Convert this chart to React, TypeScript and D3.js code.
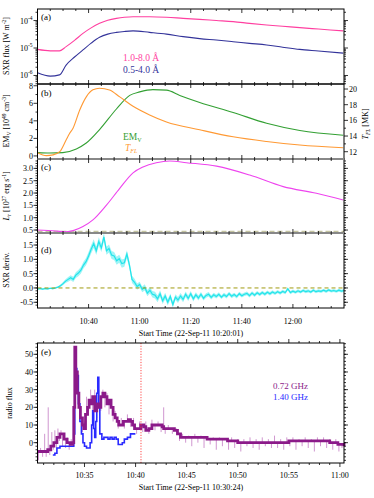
import React from 'react';
import * as d3 from 'd3';

const W = 374;
const H = 498;
const L = 37.5;
const R = 344;
const FONT = '"Liberation Serif", "DejaVu Serif", serif';

// (a) GOES SXR flux, minutes after 10:20:01
const sxrTime = [0, 5, 8.6, 11.2, 14.5, 17.8, 21, 24.3, 27.5, 30.9, 34, 37.4, 43.9, 50.5, 57, 63.5, 70, 76.6, 83, 89.7, 96, 102.7, 110, 119.7];
const sxrLong = [8.9e-6, 7.9e-6, 7.9e-6, 1.12e-5, 1.9e-5, 3.4e-5, 5.4e-5, 7.9e-5, 1.02e-4, 1.2e-4, 1.32e-4, 1.38e-4, 1.38e-4, 1.32e-4, 1.2e-4, 1.1e-4, 1.0e-4, 9.1e-5, 7.9e-5, 6.9e-5, 6.2e-5, 5.5e-5, 4.9e-5, 4.2e-5];
const sxrShort = [1.26e-6, 9.5e-7, 1.05e-6, 2.4e-6, 4.7e-6, 8.5e-6, 1.5e-5, 2.45e-5, 3.2e-5, 3.7e-5, 4.0e-5, 4.2e-5, 3.7e-5, 3.2e-5, 2.6e-5, 2.2e-5, 1.95e-5, 1.7e-5, 1.48e-5, 1.29e-5, 1.07e-5, 8.9e-6, 7.8e-6, 6.5e-6];

// (b) emission measure and temperature
const emTime = [0, 4.7, 9.9, 15.2, 19.1, 24.3, 30.9, 36.1, 40, 45.2, 50.5, 55.7, 63.5, 76.6, 89.7, 102.7, 119.7];
const emValue = [0.38, 0.33, 0.38, 0.8, 1.47, 3.0, 5.35, 6.9, 7.3, 7.56, 7.5, 6.9, 6.1, 4.96, 3.72, 2.9, 2.36];
const tempTime = [0, 3.5, 6.1, 8.7, 11.2, 12.5, 13.9, 16.5, 19.1, 21.7, 24.3, 28.2, 32.2, 37.4, 43.9, 50.5, 63.5, 76.6, 89.7, 102.7, 119.7];
const tempValue = [11.87, 11.5, 11.6, 12.0, 13.5, 14.3, 15.0, 17.3, 19.0, 19.9, 20.1, 19.87, 19.0, 17.8, 16.7, 15.8, 14.8, 13.9, 13.3, 12.85, 12.5];

// (c) radiative loss
const lumTime = [0, 7.2, 11.2, 17.8, 21.7, 27, 32.2, 37.4, 41.3, 46.5, 51.8, 58.3, 70.1, 83.1, 96.2, 109.2, 119.7];
const lumValue = [0.5, 0.46, 0.43, 0.64, 0.91, 1.51, 2.19, 2.82, 3.06, 3.23, 3.3, 3.23, 3.09, 2.73, 2.26, 1.99, 1.72];
const lumBase = 0.43;

// (d) SXR derivative, one value per minute from 10:20, plus the spread of the noisy band
const derivValue = [
  -0.03, -0.02, -0.04, -0.02, -0.03, -0.01, -0.02, 0.0,
  0.03, 0.08, 0.15, 0.24, 0.3,
  0.36, 0.3, 0.45, 0.52, 0.62,
  0.8, 0.92, 1.12, 1.35,
  1.55, 1.3, 1.62, 1.4, 1.78,
  1.3, 1.38, 1.15, 1.12,
  0.95, 1.02, 0.85, 0.88,
  1.18, 0.8,
  0.3, 0.2, 0.05, 0.12,
  -0.05, 0.02, -0.18, -0.08, -0.22,
  -0.25, -0.38, -0.2, -0.45, -0.28, -0.5, -0.3, -0.58, -0.32, -0.42,
  -0.28, -0.4, -0.22, -0.36, -0.2, -0.38, -0.24, -0.35, -0.22, -0.36, -0.26, -0.22, -0.33, -0.24, -0.3,
  -0.22, -0.32, -0.24, -0.3, -0.2, -0.29, -0.23, -0.3, -0.2, -0.27, -0.22, -0.19, -0.27, -0.18, -0.25, -0.17, -0.23, -0.16, -0.22, -0.15,
  -0.2, -0.14, -0.19, -0.13, -0.18, -0.12, -0.16, -0.03, -0.16, -0.11,
  -0.15, -0.1, -0.14, -0.09, -0.13, -0.1, -0.14, -0.08, -0.13, -0.1, -0.12, -0.08, -0.12, -0.07, -0.11, -0.09, -0.12, -0.08, -0.11, -0.09,
];
const derivSpreadTime = [0, 8, 12, 18, 22, 30, 36, 40, 46, 56, 70, 90, 120];
const derivSpread = [0.03, 0.03, 0.08, 0.12, 0.15, 0.14, 0.14, 0.1, 0.12, 0.1, 0.07, 0.06, 0.05];

// (e) radio flux, minutes after 10:30:00
const r072Time = [0.4, 1.0, 1.4, 1.7, 2.0, 2.3, 2.6, 3.0, 3.3, 3.6, 3.85, 3.95, 4.05, 4.15, 4.3, 4.45, 4.6, 4.8, 4.95, 5.1, 5.3, 5.45, 5.6, 5.8, 6.0, 6.2, 6.4, 6.6, 6.8, 7.0, 7.2, 7.4, 7.6, 7.8, 8.0, 8.2, 8.35, 8.6, 8.8, 9.0, 9.3, 9.5, 9.7, 9.9, 10.2, 10.5, 10.8, 11.0, 11.3, 11.6, 12.0, 12.4, 12.6, 12.75, 13.0, 13.4, 13.8, 14.1, 14.4, 15, 16, 17, 18, 19, 20, 21, 22, 23, 24, 25, 26, 27, 28, 29, 29.8, 30.4];
const r072Value = [-5, -5, -4, -2, 0, 3, 5, 2, 0, -1, 0, 20, 54, 40, 28, 20, 14, 10, 8, 16, 20, 24, 22, 26, 18, 22, 20, 26, 28, 26, 22, 24, 20, 16, 14, 12, 10, 10, 12, 12, 13, 12, 10, 8, 8, 10, 9, 7, 8, 10, 10, 10, 9, 8, 8, 8, 7, 5, 3, 3, 3, 2, 2, 1, 0, 0, 0, 0, 0, 1, 1, 1, 1, 0, -1, -2];
const r072RawTime = [0.5, 0.7, 0.9, 1.1, 1.25, 1.45, 1.6, 1.8, 1.95, 2.1, 2.25, 2.4, 2.55, 2.7, 2.85, 3.0, 3.15, 3.3, 3.5, 3.7, 4.2, 4.4, 4.6, 4.8, 5.0, 5.2, 5.4, 5.6, 5.8, 6.0, 6.2, 6.4, 6.6, 6.8, 7.0, 7.2, 7.4, 7.6, 7.8, 8.0, 8.3, 8.6, 8.9, 9.2, 9.5, 9.8, 10.1, 10.4, 10.7, 11.0, 11.3, 11.6, 11.9, 12.2, 12.5, 12.75, 12.9, 13.2, 13.6, 14.0, 14.3, 14.6, 14.9, 15.2, 15.5, 15.8, 16.1, 16.4, 16.7, 17.0, 17.3, 17.6, 17.9, 18.2, 18.5, 18.8, 19.1, 19.4, 19.7, 20.0, 20.3, 20.6, 20.9, 21.2, 21.5, 21.8, 22.1, 22.4, 22.7, 23.0, 23.3, 23.6, 23.9, 24.2, 24.5, 24.8, 25.1, 25.4, 25.7, 26.0, 26.3, 26.6, 26.9, 27.2, 27.5, 27.8, 28.1, 28.4, 28.7, 29.0, 29.3, 29.6, 29.9, 30.2];
const r072RawValue = [-10, -3, -8, 5, -8, 20, -7, 6, -4, 7, -3, 8, 1, 7, -2, 5, -3, 3, -4, 2, 50, 24, 18, 6, 12, 26, 18, 30, 16, 30, 14, 30, 18, 30, 20, 28, 16, 24, 12, 18, 8, 14, 8, 16, 9, 14, 5, 12, 6, 12, 5, 13, 7, 12, 6, 20, 5, 10, 5, 8, 1, 5, 0, 4, -2, 5, 0, 4, -3, 3, -1, 3, -4, 3, -2, 2, -4, 3, -3, 2, -5, 2, -2, 3, -3, 2, -4, 3, -2, 2, -3, 4, -3, 2, -4, 3, -2, 3, -4, 2, -2, 3, -3, 2, -5, 3, -2, 3, -3, 2, -4, 2, -5, -3];
const r140Time = [1.9, 2.1, 2.3, 2.6, 3.0, 3.4, 3.8, 3.95, 4.05, 4.15, 4.25, 4.4, 4.55, 4.7, 4.85, 5.0, 5.2, 5.4, 5.55, 5.7, 5.8, 5.9, 6.0, 6.1, 6.2, 6.3, 6.4, 6.5, 6.7, 6.9, 7.1, 7.3, 7.5, 7.7, 7.9, 8.1, 8.3, 8.5, 8.7, 8.9, 9.2, 9.5, 9.98];
const r140Value = [-7, -6, -3, -2, -2, -2, -2, 5, 30, 42, 38, 22, 12, 5, 0, -2, -3, -3, 0, 10, 18, 8, 3, 12, 28, 37, 20, 5, 2, 3, 3, 2, 3, 2, 3, 2, -1, -1, 0, 2, 3, 5, 5];
const gongTime = 10.53;

const topTicks = [20, 40, 60, 80, 100];
const topTickLabels = ['10:40', '11:00', '11:20', '11:40', '12:00'];
const radioTicks = [5, 10, 15, 20, 25, 30];
const radioTickLabels = ['10:35', '10:40', '10:45', '10:50', '10:55', '11:00'];

const panelA = [9, 84];
const panelB = [84, 159];
const panelC = [159, 233];
const panelD = [233, 308];
const panelE = [343, 463];

const xTop = d3.scaleLinear().domain([0, 120]).range([L, R]);
const xRadio = d3.scaleLinear().domain([0.4, 30.4]).range([L, R]);
const yA = d3.scaleLog().domain([4.9e-7, 2.63e-4]).range([panelA[1], panelA[0]]);
const yB = d3.scaleLinear().domain([-0.35, 8.2]).range([panelB[1], panelB[0]]);
const yBT = d3.scaleLinear().domain([11.07, 20.64]).range([panelB[1], panelB[0]]);
const yC = d3.scaleLinear().domain([0.38, 3.38]).range([panelC[1], panelC[0]]);
const yD = d3.scaleLinear().domain([-0.7, 1.92]).range([panelD[1], panelD[0]]);
const yE = d3.scaleLinear().domain([-11.5, 56.4]).range([panelE[1], panelE[0]]);

const range = (a: number, b: number, s: number) => d3.range(a, b + s / 2, s);

function path(xs: number[], ys: number[], x: any, y: any, curve: any = d3.curveMonotoneX) {
  const pts = xs.map((t, i) => [t, ys[i]] as [number, number]);
  return d3.line<[number, number]>().x(d => x(d[0])).y(d => y(d[1])).curve(curve)(pts) || '';
}

// vertical axis ticks at x, dir -1 = outward to the left, +1 = to the right
function vTicks(y: any, vals: number[], x: number, dir: number, len: number, key: string) {
  return vals.map((v, i) => (
    <line key={key + i} x1={x} x2={x + dir * len} y1={y(v)} y2={y(v)} stroke="#000" strokeWidth={0.8} />
  ));
}

function hTicks(x: any, vals: number[], y: number, dir: number, len: number, key: string) {
  return vals.map((v, i) => (
    <line key={key + i} x1={x(v)} x2={x(v)} y1={y} y2={y + dir * len} stroke="#000" strokeWidth={0.8} />
  ));
}

function Frame({ top, bottom }: { top: number; bottom: number }) {
  return <rect x={L} y={top} width={R - L} height={bottom - top} fill="none" stroke="#000" strokeWidth={1} />;
}

function leftLabels(y: any, vals: number[], fmt: (v: number) => string, key: string) {
  return vals.map((v, i) => (
    <text key={key + i} x={L - 4.5} y={y(v) + 3} textAnchor="end" fontSize={8}>{fmt(v)}</text>
  ));
}

function YTitle({ x, y, children }: { x: number; y: number; children: React.ReactNode }) {
  return (
    <text transform={`translate(${x},${y}) rotate(-90)`} textAnchor="middle" fontSize={8}>{children}</text>
  );
}

export default function App() {
  const decades = [1e-6, 1e-5, 1e-4];
  const logMinor: number[] = [];
  [1e-7, 1e-6, 1e-5, 1e-4].forEach(d => {
    for (let k = 2; k <= 9; k++) {
      const v = d * k;
      if (v > 4.9e-7 && v < 2.63e-4) logMinor.push(v);
    }
  });
  const topMinor = range(5, 115, 5).filter(v => v % 20 !== 0);
  const radioMinor = range(1, 30, 1).filter(v => v % 5 !== 0);
  const fmt1 = (v: number) => v.toFixed(1);

  // noisy band of the derivative: value +/- spread, read per minute
  const spreadAt = d3.scaleLinear().domain(derivSpreadTime).range(derivSpread);
  const derivBand = d3.area<number>()
    .x((_, i) => xTop(i))
    .y0((v, i) => yD(v - spreadAt(i)))
    .y1((v, i) => yD(v + spreadAt(i)))
    .curve(d3.curveLinear)(derivValue) || '';

  // 0.72 GHz spikes drawn from the smoothed step level to each raw sample
  const levelAt = (t: number) => r072Value[Math.max(0, d3.bisectRight(r072Time, t) - 1)];

  return (
    <svg width={W} height={H} style={{ position: 'absolute', left: 0, top: 0, background: '#fff' }} fontFamily={FONT}>
      <rect width={W} height={H} fill="#fff" />

      {/* (a) */}
      <path d={path(sxrTime, sxrLong, xTop, yA)} fill="none" stroke="#ff3fa0" strokeWidth={1.1} />
      <path d={path(sxrTime, sxrShort, xTop, yA)} fill="none" stroke="#33339a" strokeWidth={1.1} />
      {vTicks(yA, decades, L, -1, 4, 'al')}
      {vTicks(yA, logMinor, L, -1, 2, 'alm')}
      {vTicks(yA, decades, R, 1, 4, 'ar')}
      {vTicks(yA, logMinor, R, 1, 2, 'arm')}
      {decades.map((d, i) => (
        <text key={'ad' + i} x={L - 5} y={yA(d) + 3} textAnchor="end" fontSize={8}>
          10<tspan dy={-4} fontSize={5.5}>{Math.round(Math.log10(d))}</tspan>
        </text>
      ))}
      <text x={123} y={61} fontSize={9.5} fill="#ff3fa0">1.0-8.0 Å</text>
      <text x={123} y={72.5} fontSize={9.5} fill="#33339a">0.5-4.0 Å</text>
      <text x={41} y={20} fontSize={9}>(a)</text>
      <YTitle x={9} y={46}>SXR flux [W m<tspan dy={-3.5} fontSize={5.5}>-2</tspan><tspan dy={3.5}>]</tspan></YTitle>

      {/* (b) */}
      <path d={path(emTime, emValue, xTop, yB)} fill="none" stroke="#33a033" strokeWidth={1.1} />
      <path d={path(tempTime, tempValue, xTop, yBT)} fill="none" stroke="#ff9933" strokeWidth={1.1} />
      {vTicks(yB, range(0, 8, 2), L, -1, 4, 'bl')}
      {vTicks(yB, range(1, 7, 2), L, -1, 2, 'blm')}
      {leftLabels(yB, range(0, 8, 2), v => String(v), 'blt')}
      {vTicks(yBT, range(12, 20, 2), R, 1, 4, 'br')}
      {vTicks(yBT, range(13, 19, 2), R, 1, 2, 'brm')}
      {range(12, 20, 2).map((v, i) => (
        <text key={'brt' + i} x={R + 5} y={yBT(v) + 3} fontSize={8}>{v}</text>
      ))}
      <text x={123} y={140} fontSize={9.5} fill="#33a033">EM<tspan dy={2} fontSize={6}>V</tspan></text>
      <text x={125} y={151} fontSize={9.5} fill="#ff9933" fontStyle="italic">T<tspan dy={2} fontSize={6}>FL</tspan></text>
      <text x={41} y={96} fontSize={9}>(b)</text>
      <YTitle x={9} y={121}>
        EM<tspan dy={1.5} fontSize={5.5}>V</tspan><tspan dy={-1.5}> [10</tspan><tspan dy={-3.5} fontSize={5.5}>49</tspan>
        <tspan dy={3.5}> cm</tspan><tspan dy={-3.5} fontSize={5.5}>-3</tspan><tspan dy={3.5}>]</tspan>
      </YTitle>
      <YTitle x={368} y={124}>
        <tspan fontStyle="italic">T</tspan><tspan dy={1.5} fontSize={5.5} fontStyle="italic">FL</tspan><tspan dy={-1.5}> [MK]</tspan>
      </YTitle>

      {/* (c) */}
      <line x1={L} x2={R} y1={yC(lumBase)} y2={yC(lumBase)} stroke="#c4c4a0" strokeWidth={2.2} strokeDasharray="5,3" />
      <path d={path(lumTime, lumValue, xTop, yC)} fill="none" stroke="#ee44ee" strokeWidth={1.1} />
      {vTicks(yC, range(0.5, 3.0, 0.5), L, -1, 4, 'cl')}
      {vTicks(yC, range(0.5, 3.3, 0.1), L, -1, 2, 'clm')}
      {vTicks(yC, range(0.5, 3.0, 0.5), R, 1, 4, 'cr')}
      {vTicks(yC, range(0.5, 3.3, 0.1), R, 1, 2, 'crm')}
      {leftLabels(yC, range(0.5, 3.0, 0.5), fmt1, 'clt')}
      <text x={41} y={170} fontSize={9}>(c)</text>
      <YTitle x={9} y={196}>
        <tspan fontStyle="italic">L</tspan><tspan dy={1.5} fontSize={5.5} fontStyle="italic">r</tspan><tspan dy={-1.5}> [10</tspan>
        <tspan dy={-3.5} fontSize={5.5}>27</tspan><tspan dy={3.5}> erg s</tspan><tspan dy={-3.5} fontSize={5.5}>-1</tspan><tspan dy={3.5}>]</tspan>
      </YTitle>

      {/* (d) */}
      <path d={derivBand} fill="#9ff4f6" stroke="none" />
      <path d={path(d3.range(derivValue.length), derivValue, xTop, yD, d3.curveLinear)} fill="none" stroke="#22e4ea" strokeWidth={1.2} />
      <line x1={L} x2={R} y1={yD(0)} y2={yD(0)} stroke="#a09a10" strokeWidth={1} strokeDasharray="4,3" />
      {vTicks(yD, range(-0.5, 1.5, 0.5), L, -1, 4, 'dl')}
      {vTicks(yD, range(-0.6, 1.9, 0.1), L, -1, 2, 'dlm')}
      {vTicks(yD, range(-0.5, 1.5, 0.5), R, 1, 4, 'dr')}
      {vTicks(yD, range(-0.6, 1.9, 0.1), R, 1, 2, 'drm')}
      {leftLabels(yD, range(-0.5, 1.5, 0.5), fmt1, 'dlt')}
      <text x={41} y={253} fontSize={9}>(d)</text>
      <YTitle x={9} y={270}>SXR deriv.</YTitle>

      {/* frames of the upper stack */}
      <Frame top={panelA[0]} bottom={panelA[1]} />
      <Frame top={panelB[0]} bottom={panelB[1]} />
      <Frame top={panelC[0]} bottom={panelC[1]} />
      <Frame top={panelD[0]} bottom={panelD[1]} />
      <line x1={L} x2={R} y1={panelB[1]} y2={panelB[1]} stroke="#888" strokeWidth={2} />
      <line x1={L} x2={R} y1={panelC[1]} y2={panelC[1]} stroke="#888" strokeWidth={2} />
      {[panelA, panelB, panelC, panelD].map((p, j) => (
        <g key={'xt' + j}>
          {hTicks(xTop, topTicks, p[1], -1, 4, 'xb' + j)}
          {hTicks(xTop, topMinor, p[1], -1, 2, 'xbm' + j)}
          {hTicks(xTop, topTicks, p[0], 1, 4, 'xt' + j)}
          {hTicks(xTop, topMinor, p[0], 1, 2, 'xtm' + j)}
        </g>
      ))}
      {topTicks.map((t, i) => (
        <text key={'tl' + i} x={xTop(t)} y={324} textAnchor="middle" fontSize={8}>{topTickLabels[i]}</text>
      ))}
      <text x={191} y={336} textAnchor="middle" fontSize={8}>Start Time (22-Sep-11 10:20:01)</text>

      {/* (e) */}
      {r072RawTime.map((t, i) => (
        <line key={'sp' + i} x1={xRadio(t)} x2={xRadio(t)} y1={yE(levelAt(t))} y2={yE(r072RawValue[i])} stroke="#c47cc4" strokeWidth={0.8} />
      ))}
      <path d={path(r140Time, r140Value, xRadio, yE, d3.curveStepAfter)} fill="none" stroke="#2a2aff" strokeWidth={1.6} />
      <path d={path(r072Time, r072Value, xRadio, yE, d3.curveStepAfter)} fill="none" stroke="#8b1a89" strokeWidth={2.8} />
      <line x1={xRadio(gongTime)} x2={xRadio(gongTime)} y1={panelE[0]} y2={panelE[1]} stroke="#ff3333" strokeWidth={0.9} strokeDasharray="1.2,1.5" />
      <Frame top={panelE[0]} bottom={panelE[1]} />
      {vTicks(yE, range(0, 50, 10), L, -1, 4, 'el')}
      {vTicks(yE, range(-10, 56, 2), L, -1, 2, 'elm')}
      {vTicks(yE, range(0, 50, 10), R, 1, 4, 'er')}
      {vTicks(yE, range(-10, 56, 2), R, 1, 2, 'erm')}
      {leftLabels(yE, range(0, 50, 10), v => String(v), 'elt')}
      {hTicks(xRadio, radioTicks, panelE[1], 1, 4, 'exb')}
      {hTicks(xRadio, radioMinor, panelE[1], 1, 2, 'exbm')}
      {hTicks(xRadio, radioTicks, panelE[0], -1, 4, 'ext')}
      {hTicks(xRadio, radioMinor, panelE[0], -1, 2, 'extm')}
      {radioTicks.map((t, i) => (
        <text key={'rl' + i} x={xRadio(t)} y={478} textAnchor="middle" fontSize={8}>{radioTickLabels[i]}</text>
      ))}
      <text x={191} y={490} textAnchor="middle" fontSize={8}>Start Time (22-Sep-11 10:30:24)</text>
      <text x={273} y={389} fontSize={9} fill="#8b1a89">0.72 GHz</text>
      <text x={273} y={400} fontSize={9} fill="#2a2aff">1.40 GHz</text>
      <text x={41} y={355} fontSize={9}>(e)</text>
      <YTitle x={12} y={403}>radio flux</YTitle>
    </svg>
  );
}
